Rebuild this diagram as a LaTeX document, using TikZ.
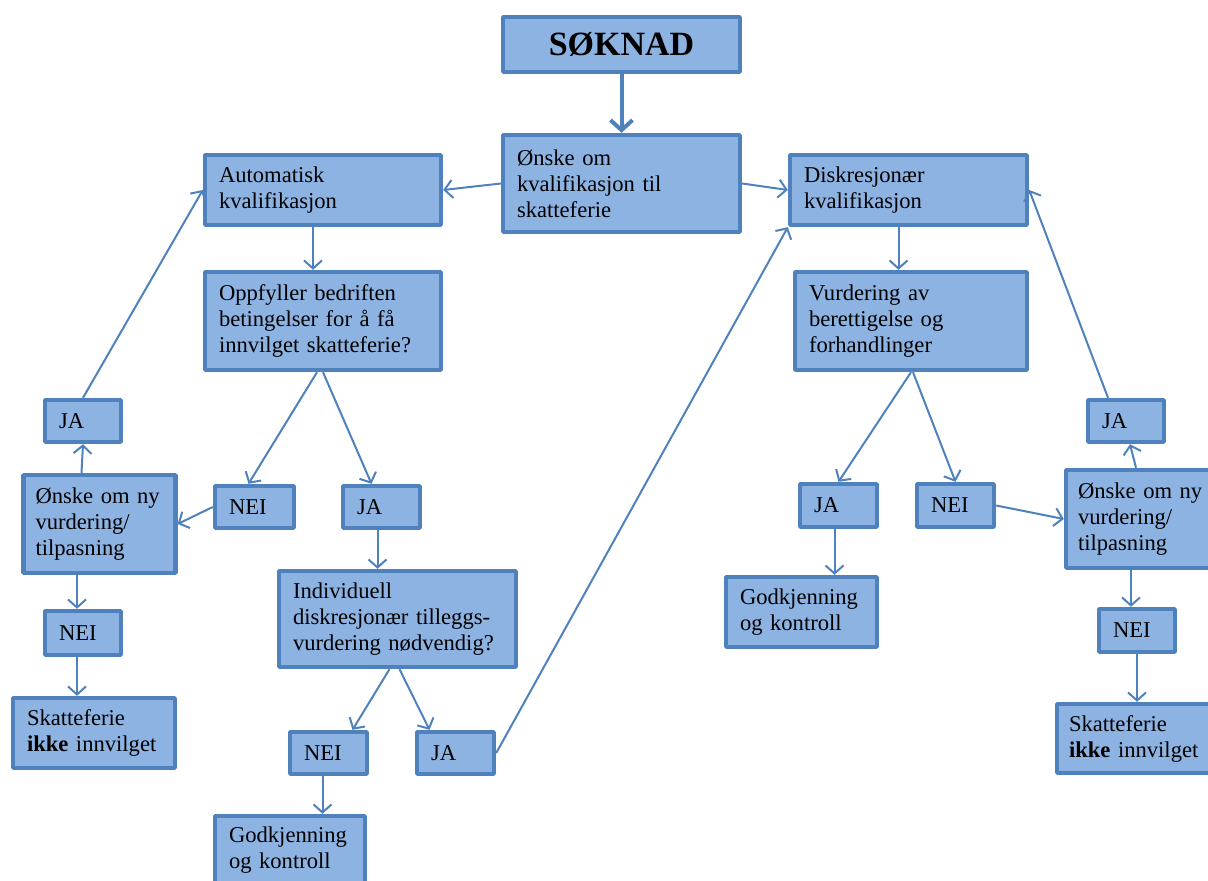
\documentclass[tikz,border=0pt]{standalone}
\usepackage{fontspec}
\setmainfont{Liberation Serif}
\usetikzlibrary{arrows.meta}

\begin{document}
\begin{tikzpicture}[x=0.5pt,y=-0.5pt,>={Straight Barb[length=4pt,width=9pt]},line join=bevel,
  box/.style={draw=boxline,fill=boxfill,line width=2.2pt,inner xsep=7pt,inner ysep=0pt,
    align=left,font=\fontsize{11.3}{13}\selectfont,
    execute at begin node={\hyphenpenalty=10000}},
  link/.style={->,draw=boxline,line width=1pt}]
\definecolor{boxfill}{RGB}{141,179,226}
\definecolor{boxline}{RGB}{79,129,189}
\useasboundingbox (0,0) rectangle (1208,881);

% Node: soknad
\node[box,align=center,text width=104.5pt,minimum height=27.5pt,font=\fontsize{17}{20}\selectfont\bfseries] (soknad) at (621.5,44.5) {SØKNAD};
% Node: onske
\node[box,text width=104.5pt,minimum height=48.5pt] (onske) at (621.5,183.5) {Ønske om\\kvalifikasjon til\\skatteferie};

% Node: auto (left branch)
\node[box,text width=104pt,minimum height=35pt] (auto) at (323,190) {Automatisk\\kvalifikasjon};
\node[box,text width=104pt,minimum height=49pt] (oppf) at (323,321) {Oppfyller bedriften\\betingelser for å få\\innvilget skatteferie?};
\node[box,text width=25.5pt,minimum height=21pt] (neiA) at (254.5,507) {NEI};
\node[box,text width=24.5pt,minimum height=21pt] (jaA) at (381.5,507) {JA};
\node[box,text width=64pt,inner xsep=6pt,minimum height=49pt] (nyL) at (99.5,524) {Ønske om ny\\vurdering/\\tilpasning};
\node[box,text width=24pt,minimum height=21pt] (jaL) at (83,421) {JA};
\node[box,text width=24pt,minimum height=22pt] (neiL) at (83,633) {NEI};
\node[box,text width=67pt,minimum height=35pt] (ikkeL) at (94,733) {Skatteferie\\\textbf{ikke} innvilget};
\node[box,text width=104.5pt,minimum height=48pt] (indiv) at (397.5,619) {Individuell\\diskresjonær tilleggs-\\vurdering nødvendig?};
\node[box,text width=24.5pt,minimum height=21pt] (neiB) at (328.5,753) {NEI};
\node[box,text width=24.5pt,minimum height=21pt] (jaB) at (455.5,753) {JA};
\node[box,text width=61pt,minimum height=34.5pt] (godkB) at (290,850.5) {Godkjenning\\og kontroll};

% Node: disk (right branch)
\node[box,text width=104.5pt,minimum height=35pt] (disk) at (908.5,190) {Diskresjonær\\kvalifikasjon};
\node[box,text width=102pt,minimum height=49pt] (vurd) at (911,321) {Vurdering av\\berettigelse og\\forhandlinger};
\node[box,text width=24.5pt,minimum height=21.5pt] (jaR) at (838.5,505.5) {JA};
\node[box,text width=24.5pt,minimum height=21.5pt] (neiR) at (955.5,505.5) {NEI};
\node[box,text width=61.5pt,minimum height=35pt] (godkR) at (801.5,612) {Godkjenning\\og kontroll};
\node[box,text width=64pt,inner xsep=6pt,minimum height=49pt] (nyR) at (1142,519) {Ønske om ny\\vurdering/\\tilpasning};
\node[box,text width=24pt,minimum height=21pt] (jaRR) at (1126,421) {JA};
\node[box,text width=24pt,minimum height=21.5pt] (neiRR) at (1137,630.5) {NEI};
\node[box,text width=67pt,inner xsep=6pt,minimum height=34.5pt] (ikkeR) at (1136,738.5) {Skatteferie\\\textbf{ikke} innvilget};

% Edge: soknad -> onske
\draw[link,line width=2pt,>={Straight Barb[length=5pt,width=11pt]}] (soknad.south) -- (onske.north);
% Edge: onske -> auto, onske -> disk
\draw[link] (onske.west) -- (auto.east);
\draw[link] (onske.east) -- (disk.west);

% Edges: left branch
\draw[link] ([xshift=-5pt]auto.south) -- ([xshift=-5pt]oppf.north);
\draw[link] ([xshift=-3pt]oppf.south) -- ([xshift=-3pt]neiA.north);
\draw[link] (oppf.south) -- ([xshift=-5pt]jaA.north);
\draw[link] (neiA.west) -- (nyL.east);
\draw[link] ([xshift=-2pt]jaA.south) -- ([xshift=-2pt]jaA.south |- indiv.north);
\draw[link] ([xshift=-9pt]nyL.north) -- (jaL.south);
\draw[link] (jaL.north) -- (auto.west);
\draw[link] ([xshift=-3pt]neiL.north |- nyL.south) -- ([xshift=-3pt]neiL.north);
\draw[link] ([xshift=-3pt]neiL.south) -- ([xshift=-3pt]neiL.south |- ikkeL.north);
\draw[link] ([xshift=-4pt]indiv.south) -- ([xshift=12pt]neiB.north);
\draw[link] ([xshift=1pt]indiv.south) -- ([xshift=-13pt]jaB.north);
\draw[link] ([xshift=-3pt]neiB.south) -- ([xshift=-3pt]neiB.south |- godkB.north);
\draw[link] (jaB.east) -- (disk.south west);

% Edges: right branch
\draw[link] ([xshift=-5pt]disk.south) -- ([xshift=-5pt]disk.south |- vurd.north);
\draw[link] (vurd.south) -- (jaR.north);
\draw[link] ([xshift=1pt]vurd.south) -- (neiR.north);
\draw[link] ([xshift=-2pt]jaR.south) -- ([xshift=-2pt]jaR.south |- godkR.north);
\draw[link] (neiR.east) -- (nyR.west);
\draw[link] ([xshift=-3pt]nyR.north) -- ([xshift=2pt]jaRR.south);
\draw[link] ([xshift=-9pt]jaRR.north) -- (disk.east);
\draw[link] ([xshift=-3pt]neiRR.north |- nyR.south) -- ([xshift=-3pt]neiRR.north);
\draw[link] (neiRR.south) -- (neiRR.south |- ikkeR.north);
%
\end{tikzpicture}
\end{document}
